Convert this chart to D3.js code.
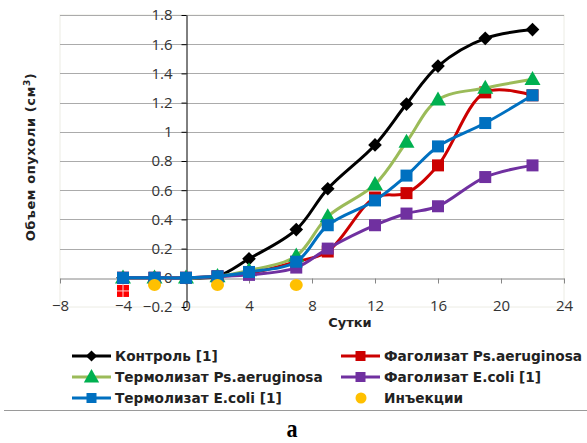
<!DOCTYPE html>
<html>
<head>
<meta charset="utf-8">
<script src="https://cdn.jsdelivr.net/npm/d3@7"></script>
<style>
  html, body { margin: 0; padding: 0; background: #fff; }
  svg { display: block; }
</style>
</head>
<body>
<svg id="chart" width="587" height="443"></svg>
<script>
// Days of observation
const days = [-4, -2, 0, 2, 4, 7, 9, 12, 14, 16, 19, 22];

// Tumour volume (cm³) per group
const control      = [0, 0, 0, 0.01, 0.13, 0.33, 0.61, 0.91, 1.19, 1.45, 1.64, 1.70];
const phagoPs      = [0, 0, 0, 0.01, 0.03, 0.11, 0.18, 0.55, 0.58, 0.77, 1.27, 1.25];
const thermoPs     = [0, 0, 0, 0.01, 0.05, 0.15, 0.42, 0.64, 0.93, 1.22, 1.30, 1.36];
const phagoEcoli   = [0, 0, 0, 0.01, 0.02, 0.07, 0.20, 0.36, 0.44, 0.49, 0.69, 0.77];
const thermoEcoli  = [0, 0, 0, 0.01, 0.04, 0.11, 0.36, 0.53, 0.70, 0.90, 1.06, 1.25];

// Injection days
const injectionDays   = [-2, 2, 7];
const injectionLevel  = [-0.05, -0.05, -0.05];

// Separate point for the phagolysate group
const extraPointX = [-4];
const extraPointY = [-0.09];

const xTicks = [-8, -4, 0, 4, 8, 12, 16, 20, 24];
const yTicks = [-0.2, 0, 0.2, 0.4, 0.6, 0.8, 1, 1.2, 1.4, 1.6, 1.8];

const seriesNames = [
  "Контроль [1]",
  "Фаголизат Ps.aeruginosa",
  "Термолизат Ps.aeruginosa",
  "Фаголизат E.coli [1]",
  "Термолизат E.coli [1]",
  "Инъекции"
];

const series = [
  { name: seriesNames[0], values: control,     line: "#000000", fill: "#000000", marker: "diamond" },
  { name: seriesNames[1], values: phagoPs,     line: "#cc0000", fill: "#cc0000", marker: "square" },
  { name: seriesNames[2], values: thermoPs,    line: "#9bbb59", fill: "#00b050", marker: "triangle" },
  { name: seriesNames[3], values: phagoEcoli,  line: "#7030a0", fill: "#7030a0", marker: "square" },
  { name: seriesNames[4], values: thermoEcoli, line: "#0070c0", fill: "#0070c0", marker: "square" }
];

const svg = d3.select("#chart");
const plot = { left: 60, right: 564, top: 15, bottom: 307 };

const x = d3.scaleLinear().domain([-8, 24]).range([plot.left, plot.right]);
const y = d3.scaleLinear().domain([-0.2, 1.8]).range([plot.bottom, plot.top]);

const tickFont = "'Open Sans', 'Liberation Sans', sans-serif";
const boldFont = "'DejaVu Sans', 'Liberation Sans', sans-serif";

// Plot area frame
svg.append("rect")
  .attr("x", plot.left).attr("y", plot.top)
  .attr("width", plot.right - plot.left).attr("height", plot.bottom - plot.top)
  .attr("fill", "none").attr("stroke", "#ecece4").attr("stroke-width", 1);

// Horizontal gridlines
svg.append("g")
  .selectAll("line")
  .data(yTicks.filter(v => v > -0.2 && v !== 0))
  .join("line")
  .attr("x1", plot.left).attr("x2", plot.right)
  .attr("y1", d => Math.round(y(d)) + 0.5).attr("y2", d => Math.round(y(d)) + 0.5)
  .attr("stroke", "#ababab").attr("stroke-width", 1);

// X axis along zero
const xAxis = d3.axisBottom(x).tickValues(xTicks).tickSize(5).tickSizeOuter(0).tickFormat(d3.format("d"));
const gx = svg.append("g")
  .attr("transform", `translate(0,${Math.round(y(0)) + 0.5})`)
  .call(xAxis);
gx.select(".domain").attr("stroke", "#868686");
gx.selectAll(".tick line").attr("stroke", "#868686");
gx.selectAll(".tick text")
  .attr("y", 0)
  .attr("dy", "0")
  .attr("transform", `translate(0,${y(-0.2) - y(0) + 3})`)
  .attr("font-family", tickFont).attr("font-size", 15).attr("fill", "#333");

// Y axis at zero day
const yAxis = d3.axisLeft(y).tickValues(yTicks).tickSize(5).tickSizeOuter(0).tickFormat(d => d3.format("")(+d.toFixed(1)));
const gy = svg.append("g")
  .attr("transform", `translate(${Math.round(x(0)) + 0.5},0)`)
  .call(yAxis);
gy.select(".domain").attr("stroke", "#000");
gy.selectAll(".tick line").attr("stroke", "#000");
gy.selectAll(".tick text")
  .attr("x", -14)
  .attr("font-family", tickFont).attr("font-size", 15).attr("fill", "#333");

// Axis titles
const yTitle = svg.append("text")
  .attr("transform", `translate(35,${(plot.top + plot.bottom) / 2 - 4}) rotate(-90)`)
  .attr("text-anchor", "middle")
  .attr("font-family", boldFont).attr("font-weight", "bold").attr("font-size", 13)
  .attr("letter-spacing", 0.6)
  .attr("fill", "#222");
yTitle.append("tspan").text("Объем опухоли (см");
yTitle.append("tspan").attr("baseline-shift", "super").attr("font-size", 9).text("3");
yTitle.append("tspan").text(")");

svg.append("text")
  .attr("x", x(8) + 38).attr("y", 327)
  .attr("text-anchor", "middle")
  .attr("font-family", boldFont).attr("font-weight", "bold").attr("font-size", 13)
  .attr("fill", "#222")
  .text("Сутки");

// Marker drawing
function drawMarker(g, type, cx, cy, fill, size) {
  if (type === "diamond") {
    const h = size * 0.62;
    g.append("path")
      .attr("d", `M${cx},${cy - h} L${cx + h},${cy} L${cx},${cy + h} L${cx - h},${cy}Z`)
      .attr("fill", fill);
  } else if (type === "square") {
    const s = size;
    g.append("rect")
      .attr("x", cx - s / 2).attr("y", cy - s / 2)
      .attr("width", s).attr("height", s)
      .attr("fill", fill);
  } else if (type === "triangle") {
    const s = size * 1.2;
    g.append("path")
      .attr("d", `M${cx},${cy - s * 0.6} L${cx + s * 0.58},${cy + s * 0.42} L${cx - s * 0.58},${cy + s * 0.42}Z`)
      .attr("fill", fill);
  }
}

const line = d3.line()
  .x((d, i) => x(days[i]))
  .y(d => y(d))
  .curve(d3.curveCatmullRom.alpha(0.5));

const plotG = svg.append("g");
series.forEach(s => {
  const g = plotG.append("g");
  g.append("path")
    .attr("d", line(s.values))
    .attr("fill", "none")
    .attr("stroke", s.line)
    .attr("stroke-width", 3)
    .attr("stroke-linejoin", "round");
  s.values.forEach((v, i) => {
    const size = s.marker === "diamond" ? 11 : (s.marker === "triangle" ? 11.5 : 12);
    drawMarker(g, s.marker, x(days[i]), y(v), s.fill, size);
  });
});

// Injection markers
plotG.append("g")
  .selectAll("ellipse")
  .data(injectionDays)
  .join("ellipse")
  .attr("cx", d => x(d))
  .attr("cy", (d, i) => y(injectionLevel[i]))
  .attr("rx", 6.5).attr("ry", 6)
  .attr("fill", "#ffc000");

// Separate phagolysate point
extraPointX.forEach((d, i) => {
  const cx = x(d), cy = y(extraPointY[i]);
  plotG.append("rect")
    .attr("x", cx - 6).attr("y", cy - 6).attr("width", 12).attr("height", 12)
    .attr("fill", "#ff0000");
  plotG.append("line").attr("x1", cx).attr("x2", cx).attr("y1", cy - 6).attr("y2", cy + 6)
    .attr("stroke", "#ffd0d0").attr("stroke-width", 1);
  plotG.append("line").attr("x1", cx - 6).attr("x2", cx + 6).attr("y1", cy).attr("y2", cy)
    .attr("stroke", "#ffd0d0").attr("stroke-width", 1);
});

// Legend
const legend = svg.append("g");
const legendItems = [
  { s: series[0], col: 0, row: 0 },
  { s: series[1], col: 1, row: 0 },
  { s: series[2], col: 0, row: 1 },
  { s: series[3], col: 1, row: 1 },
  { s: series[4], col: 0, row: 2 },
  { s: { name: seriesNames[5], injection: true }, col: 1, row: 2 }
];
const colX = [72, 341];
const rowY = [356, 377, 398];
legendItems.forEach(it => {
  const lx = colX[it.col], ly = rowY[it.row];
  if (it.s.injection) {
    legend.append("circle").attr("cx", lx + 20).attr("cy", ly).attr("r", 5.5).attr("fill", "#ffc000");
  } else {
    legend.append("line")
      .attr("x1", lx).attr("x2", lx + 39).attr("y1", ly).attr("y2", ly)
      .attr("stroke", it.s.line).attr("stroke-width", 3);
    const size = it.s.marker === "diamond" ? 9 : (it.s.marker === "triangle" ? 11 : 10);
    drawMarker(legend, it.s.marker, lx + 19.5, ly, it.s.fill, size);
  }
  legend.append("text")
    .attr("x", lx + 43).attr("y", ly + 5)
    .attr("font-family", boldFont).attr("font-weight", "bold").attr("font-size", 13.7)
    .attr("fill", "#222")
    .text(it.s.name);
});

// Separator and panel letter
svg.append("line")
  .attr("x1", 4).attr("x2", 587).attr("y1", 410.5).attr("y2", 410.5)
  .attr("stroke", "#9a9a9a").attr("stroke-width", 1);

svg.append("text")
  .attr("transform", "translate(292,437) scale(0.85,1)")
  .attr("text-anchor", "middle")
  .attr("font-family", "'Liberation Serif', serif").attr("font-weight", "bold").attr("font-size", 26)
  .attr("fill", "#000")
  .text("а");
</script>
</body>
</html>
